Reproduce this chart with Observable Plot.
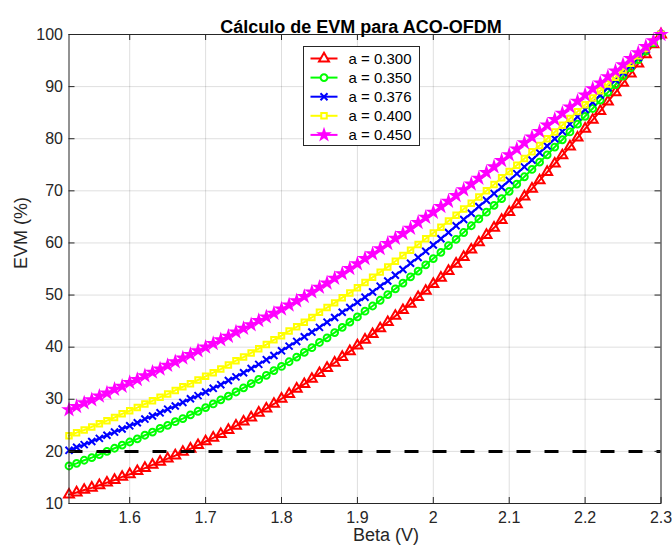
<!DOCTYPE html>
<html>
<head>
<meta charset="utf-8">
<script src="https://cdn.jsdelivr.net/npm/d3@7"></script>
<script src="https://cdn.jsdelivr.net/npm/@observablehq/plot@0.6"></script>
<style>
  html, body { margin: 0; padding: 0; background: #fff; }
  #chart svg { display: block; }
</style>
</head>
<body>
<div id="chart"></div>
<script>
const titleText = "Cálculo de EVM para ACO-OFDM";
const xLabel = "Beta (V)";
const yLabel = "EVM (%)";
const xTicks = [1.6, 1.7, 1.8, 1.9, 2.0, 2.1, 2.2, 2.3];
const yTicks = [10, 20, 30, 40, 50, 60, 70, 80, 90, 100];
const threshold = 20;

const beta = [
  1.52, 1.53, 1.54, 1.55, 1.56, 1.57, 1.58, 1.59, 1.60, 1.61,
  1.62, 1.63, 1.64, 1.65, 1.66, 1.67, 1.68, 1.69, 1.70, 1.71,
  1.72, 1.73, 1.74, 1.75, 1.76, 1.77, 1.78, 1.79, 1.80, 1.81,
  1.82, 1.83, 1.84, 1.85, 1.86, 1.87, 1.88, 1.89, 1.90, 1.91,
  1.92, 1.93, 1.94, 1.95, 1.96, 1.97, 1.98, 1.99, 2.00, 2.01,
  2.02, 2.03, 2.04, 2.05, 2.06, 2.07, 2.08, 2.09, 2.10, 2.11,
  2.12, 2.13, 2.14, 2.15, 2.16, 2.17, 2.18, 2.19, 2.20, 2.21,
  2.22, 2.23, 2.24, 2.25, 2.26, 2.27, 2.28, 2.29, 2.30
];

const seriesNames = ["a = 0.300", "a = 0.350", "a = 0.376", "a = 0.400", "a = 0.450"];

const evm300 = [
  11.7, 12.1, 12.6, 13.0, 13.5, 14.0, 14.5, 15.1, 15.6, 16.2,
  16.8, 17.4, 18.0, 18.6, 19.2, 19.9, 20.5, 21.2, 21.9, 22.6,
  23.3, 24.1, 24.9, 25.7, 26.5, 27.4, 28.2, 29.1, 30.1, 31.0,
  32.0, 32.9, 33.9, 35.0, 36.0, 37.0, 38.1, 39.2, 40.3, 41.4,
  42.5, 43.6, 44.8, 46.0, 47.1, 48.3, 49.6, 50.8, 52.1, 53.3,
  54.6, 56.0, 57.3, 58.7, 60.1, 61.5, 62.9, 64.4, 65.9, 67.4,
  68.9, 70.4, 72.0, 73.6, 75.2, 76.8, 78.5, 80.2, 81.9, 83.6,
  85.3, 87.1, 88.9, 90.7, 92.5, 94.4, 96.2, 98.1, 100.0
];
const evm350 = [
  17.2, 17.7, 18.3, 18.8, 19.4, 20.0, 20.6, 21.2, 21.8, 22.4,
  23.1, 23.7, 24.4, 25.0, 25.7, 26.3, 27.0, 27.7, 28.4, 29.1,
  29.9, 30.6, 31.4, 32.2, 33.0, 33.8, 34.6, 35.5, 36.3, 37.2,
  38.1, 39.0, 39.9, 40.9, 41.8, 42.8, 43.8, 44.8, 45.8, 46.9,
  47.9, 49.0, 50.1, 51.2, 52.3, 53.5, 54.6, 55.8, 57.0, 58.2,
  59.5, 60.7, 62.0, 63.3, 64.6, 65.9, 67.2, 68.5, 69.9, 71.3,
  72.7, 74.1, 75.5, 76.9, 78.4, 79.8, 81.3, 82.8, 84.3, 85.8,
  87.4, 88.9, 90.4, 92.0, 93.6, 95.2, 96.8, 98.4, 100.0
];
const evm376 = [
  20.2, 20.8, 21.3, 21.9, 22.5, 23.1, 23.7, 24.3, 24.9, 25.5,
  26.2, 26.8, 27.4, 28.1, 28.7, 29.4, 30.1, 30.7, 31.4, 32.1,
  32.8, 33.6, 34.3, 35.1, 35.9, 36.7, 37.6, 38.4, 39.3, 40.2,
  41.1, 42.0, 42.9, 43.8, 44.8, 45.7, 46.7, 47.6, 48.6, 49.6,
  50.6, 51.7, 52.7, 53.8, 54.9, 56.1, 57.2, 58.4, 59.6, 60.8,
  62.0, 63.3, 64.5, 65.7, 67.0, 68.2, 69.5, 70.7, 72.0, 73.3,
  74.6, 75.9, 77.3, 78.6, 80.0, 81.4, 82.8, 84.2, 85.6, 87.0,
  88.4, 89.8, 91.3, 92.7, 94.1, 95.6, 97.1, 98.5, 100.0
];
const evm400 = [
  23.0, 23.6, 24.1, 24.7, 25.3, 25.9, 26.5, 27.2, 27.8, 28.4,
  29.1, 29.7, 30.4, 31.0, 31.7, 32.4, 33.0, 33.7, 34.4, 35.1,
  35.8, 36.6, 37.4, 38.1, 38.9, 39.7, 40.5, 41.4, 42.2, 43.1,
  43.9, 44.8, 45.7, 46.7, 47.6, 48.5, 49.5, 50.4, 51.4, 52.4,
  53.4, 54.4, 55.4, 56.5, 57.6, 58.6, 59.7, 60.8, 61.9, 63.0,
  64.2, 65.3, 66.5, 67.6, 68.8, 70.0, 71.2, 72.5, 73.7, 74.9,
  76.2, 77.5, 78.7, 80.0, 81.3, 82.6, 83.9, 85.2, 86.5, 87.8,
  89.2, 90.5, 91.8, 93.2, 94.5, 95.9, 97.3, 98.6, 100.0
];
const evm450 = [
  28.0, 28.6, 29.3, 29.9, 30.6, 31.2, 31.9, 32.5, 33.2, 33.8,
  34.5, 35.2, 35.8, 36.5, 37.2, 37.9, 38.6, 39.3, 40.0, 40.7,
  41.4, 42.1, 42.9, 43.6, 44.3, 45.1, 45.8, 46.5, 47.3, 48.1,
  48.9, 49.7, 50.6, 51.5, 52.3, 53.2, 54.1, 55.1, 56.0, 57.0,
  57.9, 58.9, 59.9, 60.9, 61.8, 62.8, 63.9, 64.9, 65.9, 67.0,
  68.0, 69.1, 70.2, 71.3, 72.4, 73.5, 74.6, 75.8, 76.9, 78.0,
  79.2, 80.3, 81.4, 82.6, 83.7, 84.9, 86.1, 87.2, 88.4, 89.6,
  90.7, 91.9, 93.0, 94.2, 95.4, 96.5, 97.7, 98.8, 100.0
];

const seriesValues = [evm300, evm350, evm376, evm400, evm450];
const seriesColors = ["#ff0000", "#00ff00", "#0000ff", "#ffff00", "#ff00ff"];
const seriesSymbols = ["triangle", "circle", "times", "square", "star"];
const seriesR = [3.7, 3.4, 3.3, 3.1, 3.0];

const W = 672, H = 551;
const mTop = 34, mBottom = 48, mLeft = 68.5, mRight = 11.5;
const frameW = W - mLeft - mRight, frameH = H - mTop - mBottom;
const axisColor = "#262626";
const font = "'Liberation Sans', Arial, Helvetica, sans-serif";

const seriesData = seriesValues.map(vals => beta.map((b, i) => ({beta: b, evm: vals[i]})));

const marks = [
  Plot.gridX(xTicks, {stroke: "#000", strokeOpacity: 0.13}),
  Plot.gridY(yTicks, {stroke: "#000", strokeOpacity: 0.13}),
];
seriesData.forEach((d, k) => {
  marks.push(Plot.line(d, {x: "beta", y: "evm", stroke: seriesColors[k], strokeWidth: 2}));
  marks.push(Plot.dot(d, {
    x: "beta", y: "evm", symbol: () => seriesSymbols[k], r: seriesR[k],
    stroke: seriesColors[k],
    fill: k === 4 ? seriesColors[k] : "none",
    strokeWidth: 2
  }));
});
marks.push(
  Plot.ruleY([threshold], {stroke: "#000", strokeWidth: 3, strokeDasharray: "14,14"}),
  Plot.frame({stroke: axisColor, strokeWidth: 1}),
  Plot.tickX(xTicks, {x: d => d, insetTop: frameH - 6, stroke: axisColor}),
  Plot.tickX(xTicks, {x: d => d, insetBottom: frameH - 6, stroke: axisColor}),
  Plot.tickY(yTicks, {y: d => d, insetRight: frameW - 6, stroke: axisColor}),
  Plot.tickY(yTicks, {y: d => d, insetLeft: frameW - 6, stroke: axisColor}),
  Plot.axisX(xTicks, {tickSize: 0, tickPadding: 8, tickFormat: d => String(d), fontSize: 16, fill: axisColor, label: null}),
  Plot.axisY(yTicks, {tickSize: 0, tickPadding: 6, tickFormat: d => String(d), fontSize: 16, fill: axisColor, label: null}),
  Plot.text([titleText], {frameAnchor: "top", dx: -4, dy: -14, fontSize: 18, fontWeight: "bold", fill: "#000"}),
  Plot.text([xLabel], {frameAnchor: "bottom", dx: 21, dy: 37, fontSize: 18, fill: axisColor}),
  Plot.text([yLabel], {frameAnchor: "left", dx: -48, rotate: -90, fontSize: 18, fill: axisColor})
);

const chart = Plot.plot({
  width: W, height: H,
  marginTop: mTop, marginBottom: mBottom, marginLeft: mLeft, marginRight: mRight,
  x: {domain: [1.52, 2.3]},
  y: {domain: [10, 100]},
  style: {fontFamily: font, fontSize: "16px", background: "#fff", overflow: "visible"},
  marks
});
document.getElementById("chart").appendChild(chart);

// Legend box (inside the axes, like MATLAB's legend)
const svg = d3.select(chart);
const lg = svg.append("g").attr("font-family", font).attr("text-anchor", "start");
const lx = 303.5, ly = 46.5, lw = 116, lh = 99;
lg.append("rect").attr("x", lx).attr("y", ly).attr("width", lw).attr("height", lh)
  .attr("fill", "#fff").attr("stroke", axisColor).attr("stroke-width", 1);
const symMap = {triangle: d3.symbolTriangle, circle: d3.symbolCircle, times: d3.symbolTimes, square: d3.symbolSquare, star: d3.symbolStar};
seriesNames.forEach((name, k) => {
  const cy = ly + 12 + k * 19.1;
  lg.append("line").attr("x1", lx + 7).attr("x2", lx + 34).attr("y1", cy).attr("y2", cy)
    .attr("stroke", seriesColors[k]).attr("stroke-width", 2);
  lg.append("path")
    .attr("d", d3.symbol(symMap[seriesSymbols[k]], Math.PI * seriesR[k] * seriesR[k])())
    .attr("transform", `translate(${lx + 20.5},${cy})`)
    .attr("stroke", seriesColors[k])
    .attr("fill", k === 4 ? seriesColors[k] : "#fff")
    .attr("stroke-width", 2);
  lg.append("text").attr("x", lx + 45).attr("y", cy).attr("dy", "0.35em")
    .attr("text-anchor", "start")
    .attr("font-size", 15).attr("fill", "#000").text(name);
});
</script>
</body>
</html>
